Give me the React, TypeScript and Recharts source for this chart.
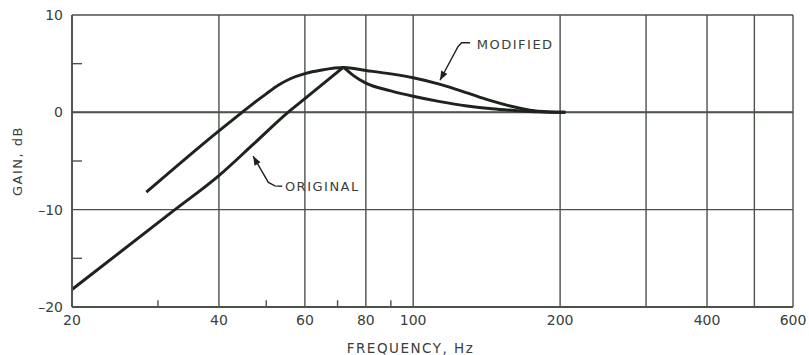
import { LineChart, Line, XAxis, YAxis, CartesianGrid, ReferenceLine, ReferenceDot } from 'recharts'

type Pt = { f: number; g: number }

// axis ticks (Hz / dB)
const xTicks = [20, 40, 60, 80, 100, 200, 300, 400, 500, 600]
const xUnlabeled = [300, 500]
const xMinorTicks = [30, 50, 70, 90]
const yTicks = [-20, -10, 0, 10]
const yMinorTicks = [-15, -5, 5]

// ORIGINAL response, rising side up to the peak
const originalRise: Pt[] = [
  { f: 20, g: -18.2 },
  { f: 32.3, g: -10.1 },
  { f: 40, g: -6.5 },
  { f: 47, g: -3.3 },
  { f: 55.4, g: 0 },
  { f: 60, g: 1.4 },
  { f: 72, g: 4.65 },
]

// ORIGINAL response, falling side after the peak
const originalFall: Pt[] = [
  { f: 72, g: 4.65 },
  { f: 75.6, g: 3.75 },
  { f: 80, g: 3.0 },
  { f: 90, g: 2.2 },
  { f: 100, g: 1.65 },
  { f: 113.5, g: 1.1 },
  { f: 129, g: 0.65 },
  { f: 145, g: 0.36 },
  { f: 163, g: 0.17 },
  { f: 180, g: 0.05 },
  { f: 205, g: 0 },
]

const modified: Pt[] = [
  { f: 28.4, g: -8.2 },
  { f: 40, g: -1.9 },
  { f: 44.6, g: 0 },
  { f: 47, g: 0.9 },
  { f: 50, g: 1.9 },
  { f: 53, g: 2.8 },
  { f: 56, g: 3.45 },
  { f: 60, g: 3.98 },
  { f: 65, g: 4.35 },
  { f: 72, g: 4.6 },
  { f: 80, g: 4.3 },
  { f: 90, g: 3.95 },
  { f: 100, g: 3.55 },
  { f: 113.6, g: 2.87 },
  { f: 129, g: 2.0 },
  { f: 143, g: 1.25 },
  { f: 163, g: 0.5 },
  { f: 180, g: 0.12 },
  { f: 205, g: 0 },
]

// leader lines for the two callouts, arrow tip first
const originalLeader: Pt[] = [
  { f: 47.0, g: -4.5 },
  { f: 50.5, g: -7.2 },
  { f: 52.1, g: -7.56 },
  { f: 53.9, g: -7.6 },
]
const modifiedLeader: Pt[] = [
  { f: 113.5, g: 3.3 },
  { f: 123.6, g: 6.77 },
  { f: 125.7, g: 7.15 },
  { f: 130.8, g: 7.15 },
]

const INK = '#1e231e'
const GRID = '#4a524a'
const TEXT = '#3a403a'
const FONT = 'DejaVu Sans'

const fmtY = (v: number) => (v < 0 ? '\u2013' + Math.abs(v) : String(v))
const fmtX = (v: number) => (xUnlabeled.includes(v) ? '' : String(v))

const arrowDot = (angle: number) => (p: any) => {
  if (p.index !== 0) return <g key={'d' + p.index} />
  return (
    <polygon
      key={'a' + p.index}
      points="0,0 -9,-3.5 -9,3.5"
      fill={INK}
      transform={`translate(${p.cx},${p.cy}) rotate(${angle})`}
    />
  )
}

const labelStyle = { fill: TEXT, fontSize: 13, fontFamily: FONT, letterSpacing: 1.5 }

export default function App() {
  return (
    <div style={{ position: 'absolute', left: 0, top: 0, background: '#fff' }}>
      <LineChart width={809} height={355} margin={{ top: 15, right: 16, bottom: 0, left: 0 }}>
        <CartesianGrid stroke={GRID} strokeWidth={1.4} />
        <XAxis
          dataKey="f"
          type="number"
          scale="log"
          domain={[20, 600]}
          ticks={xTicks}
          interval={0}
          tickFormatter={fmtX}
          tickLine={false}
          tickSize={0}
          tickMargin={8}
          height={48}
          axisLine={{ stroke: GRID, strokeWidth: 1.8 }}
          tick={{ fill: TEXT, fontSize: 14, fontFamily: FONT }}
          allowDataOverflow
          label={{ value: 'FREQUENCY, Hz', position: 'insideBottom', offset: 2, dx: -22, style: { ...labelStyle, fontSize: 13.5 } }}
        />
        <YAxis
          type="number"
          domain={[-20, 10]}
          ticks={yTicks}
          interval={0}
          tickFormatter={fmtY}
          tickLine={false}
          tickSize={0}
          tickMargin={9}
          width={72}
          axisLine={{ stroke: GRID, strokeWidth: 1.8 }}
          tick={{ fill: TEXT, fontSize: 14, fontFamily: FONT }}
          allowDataOverflow
          label={{ value: 'GAIN, dB', angle: -90, position: 'insideLeft', offset: 17, style: { ...labelStyle, textAnchor: 'middle' } }}
        />
        <ReferenceLine y={0} stroke={GRID} strokeWidth={2} />
        {xMinorTicks.map((t) => (
          <ReferenceLine key={'xm' + t} segment={[{ x: t, y: -20 }, { x: t, y: -19.3 }]} stroke={GRID} strokeWidth={1.4} />
        ))}
        {yMinorTicks.map((t) => (
          <ReferenceLine key={'ym' + t} segment={[{ x: 20, y: t }, { x: 20.97, y: t }]} stroke={GRID} strokeWidth={1.4} />
        ))}
        <Line data={originalRise} dataKey="g" type="monotone" stroke={INK} strokeWidth={3} dot={false} isAnimationActive={false} />
        <Line data={originalFall} dataKey="g" type="monotone" stroke={INK} strokeWidth={3} dot={false} isAnimationActive={false} />
        <Line data={modified} dataKey="g" type="monotone" stroke={INK} strokeWidth={3} dot={false} isAnimationActive={false} />
        <Line data={originalLeader} dataKey="g" type="linear" stroke={INK} strokeWidth={1.4} dot={arrowDot(-119.4)} activeDot={false} isAnimationActive={false} />
        <Line data={modifiedLeader} dataKey="g" type="linear" stroke={INK} strokeWidth={1.4} dot={arrowDot(117.9)} activeDot={false} isAnimationActive={false} />
        <ReferenceDot x={54.6} y={-7.6} r={0} fill="none" stroke="none"
          label={{ value: 'ORIGINAL', position: 'right', offset: 0, style: labelStyle }} />
        <ReferenceDot x={135} y={7.0} r={0} fill="none" stroke="none"
          label={{ value: 'MODIFIED', position: 'right', offset: 0, style: labelStyle }} />
      </LineChart>
    </div>
  )
}
